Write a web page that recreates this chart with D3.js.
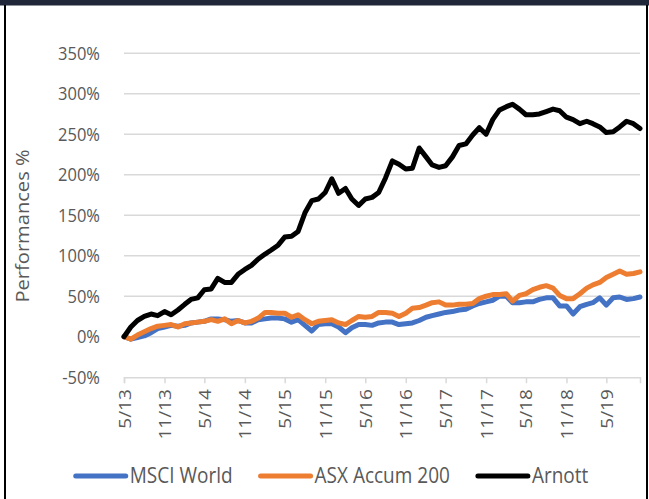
<!DOCTYPE html>
<html>
<head>
<meta charset="utf-8">
<script src="https://cdn.jsdelivr.net/npm/d3@7"></script>
<style>
  body { margin: 0; background: #fff; }
  svg text { font-family: "Open Sans", "Noto Sans", sans-serif; fill: #595959; }
</style>
</head>
<body>
<svg id="chart" width="649" height="499"></svg>
<script>
// monthly points, May 2013 .. Oct 2019
const startMonth = "5/13";
const msciWorld = [0, -3, -1, 1, 5, 10, 12, 14, 13, 14, 17, 18, 19, 22, 22, 21, 19, 20, 17, 17,
  21, 22, 23, 23, 22, 18, 21, 14, 7, 15, 16, 16, 12, 5, 11, 15, 15, 14, 17, 18,
  18, 15, 16, 17, 20, 24, 26, 28, 30, 31, 33, 34, 38, 41, 43, 45, 50, 50, 42, 42,
  43, 43, 46, 48, 48, 38, 38, 28, 37, 40, 42, 48, 39, 48, 49, 46, 47, 49];
const asxAccum200 = [0, -3, 2, 6, 10, 13, 14, 15, 12, 16, 17, 18, 19, 21, 19, 22, 16, 20, 17, 19,
  23, 30, 30, 29, 29, 24, 27, 21, 16, 19, 20, 21, 17, 15, 20, 25, 24, 25, 30, 30,
  29, 25, 29, 35, 36, 39, 42, 43, 39, 39, 40, 40, 41, 47, 50, 52, 52, 53, 44, 51,
  53, 58, 61, 63, 60, 51, 47, 47, 53, 60, 64, 67, 73, 77, 81, 77, 78, 80];
const arnott = [0, 12, 20, 25, 28, 26, 31, 27, 33, 40, 46, 48, 58, 59, 72, 67, 67, 77, 83, 88,
  96, 102, 107, 113, 123, 124, 130, 153, 168, 170, 178, 195, 177, 183, 170, 162, 170, 172, 178, 196,
  217, 213, 207, 208, 233, 222, 212, 209, 211, 222, 236, 238, 249, 258, 250, 268, 280, 284, 287, 281,
  274, 274, 275, 278, 281, 279, 271, 268, 263, 266, 263, 259, 252, 253, 259, 266, 263, 257];

const seriesNames = ["MSCI World", "ASX Accum 200", "Arnott"];
const seriesColors = ["#4472C4", "#ED7D31", "#000000"];
const xTickLabels = ["5/13", "11/13", "5/14", "11/14", "5/15", "11/15", "5/16", "11/16",
  "5/17", "11/17", "5/18", "11/18", "5/19"];
const yTicks = [-50, 0, 50, 100, 150, 200, 250, 300, 350];
const yTitle = "Performances %";

const parseMonth = d3.timeParse("%m/%y");
const t0 = parseMonth(startMonth);
const dates = arnott.map((d, i) => d3.timeMonth.offset(t0, i));
const seriesData = [msciWorld, asxAccum200, arnott];

const svg = d3.select("#chart");
const plot = { left: 124, right: 640, top: 53.2, bottom: 377.2 };
const ys = 1.15; // text looks a bit stretched vertically in the original

// frame
svg.append("rect").attr("x", 0).attr("y", 0).attr("width", 649).attr("height", 5.5).attr("fill", "#1f2738");
svg.append("line").attr("x1", 5).attr("x2", 5).attr("y1", 5).attr("y2", 499).attr("stroke", "#000").attr("stroke-width", 2);
svg.append("line").attr("x1", 647).attr("x2", 647).attr("y1", 5).attr("y2", 499).attr("stroke", "#000").attr("stroke-width", 2);

const x = d3.scaleTime().domain([dates[0], dates[dates.length - 1]]).range([plot.left, plot.right]);
const y = d3.scaleLinear().domain([-50, 350]).range([plot.bottom, plot.top]);

// gridlines
svg.append("g")
  .selectAll("line")
  .data(yTicks.filter(v => v > -50))
  .enter()
  .append("line")
  .attr("x1", plot.left)
  .attr("x2", plot.right)
  .attr("y1", d => y(d))
  .attr("y2", d => y(d))
  .attr("stroke", "#d9d9d9")
  .attr("stroke-width", 1.5);

// y labels
svg.append("g")
  .selectAll("text")
  .data(yTicks)
  .enter()
  .append("text")
  .attr("transform", d => `translate(100,${y(d) + 6.5}) scale(1,${ys})`)
  .attr("text-anchor", "end")
  .attr("font-size", 16.5)
  .text(d => d + "%");

svg.append("text")
  .attr("transform", `translate(29,226) rotate(-90) scale(${ys},1)`)
  .attr("text-anchor", "middle")
  .attr("font-size", 17.5)
  .text(yTitle);

// x axis
const tickDates = xTickLabels.map(parseMonth);
const xAxis = d3.axisBottom(x)
  .tickValues(tickDates)
  .tickSize(6)
  .tickFormat(d3.timeFormat("%-m/%y"));

const gx = svg.append("g")
  .attr("transform", `translate(0,${plot.bottom})`)
  .call(xAxis);
gx.select(".domain").attr("stroke", "#d9d9d9").attr("stroke-width", 1.5);
gx.selectAll(".tick line").attr("stroke", "#d9d9d9").attr("stroke-width", 1.5);
gx.selectAll(".tick text")
  .attr("fill", "#595959")
  .attr("font-size", 16.5)
  .attr("font-family", "'Open Sans', 'Noto Sans', sans-serif")
  .attr("text-anchor", "end")
  .attr("dy", null)
  .attr("y", null)
  .attr("transform", `translate(6,12) rotate(-90) scale(${ys},1)`);

// lines
const line = d3.line()
  .x((d, i) => x(dates[i]))
  .y(d => y(d));

svg.append("g")
  .selectAll("path")
  .data(seriesData)
  .enter()
  .append("path")
  .attr("d", d => line(d))
  .attr("fill", "none")
  .attr("stroke", (d, i) => seriesColors[i])
  .attr("stroke-width", 5)
  .attr("stroke-linejoin", "round")
  .attr("stroke-linecap", "round");

// legend
const legend = svg.append("g");
let lx = 0;
seriesNames.forEach((name, i) => {
  const item = legend.append("g").attr("transform", `translate(${lx},0)`);
  item.append("line")
    .attr("x1", 3).attr("x2", 53)
    .attr("y1", 0).attr("y2", 0)
    .attr("stroke", seriesColors[i])
    .attr("stroke-width", 5)
    .attr("stroke-linecap", "round");
  const t = item.append("text")
    .attr("transform", `translate(57,7) scale(1,${ys})`)
    .attr("font-size", 19)
    .text(name);
  lx += 57 + t.node().getComputedTextLength() + 25;
});
legend.attr("transform", `translate(${(649 - (lx - 25)) / 2 + 6},476)`);
</script>
</body>
</html>
